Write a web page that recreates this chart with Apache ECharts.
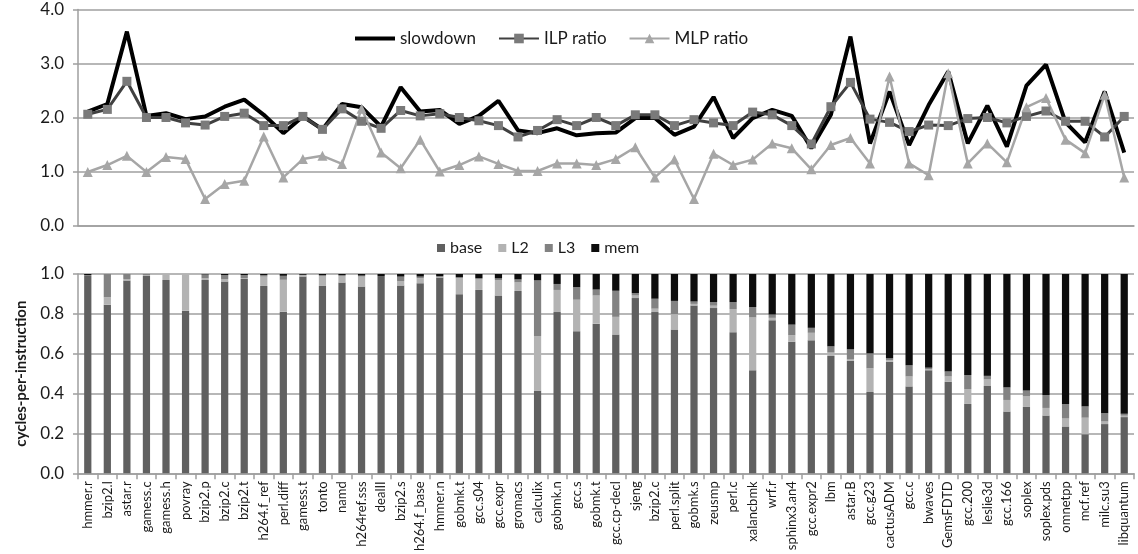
<!DOCTYPE html>
<html>
<head>
<meta charset="utf-8">
<script src="https://cdn.jsdelivr.net/npm/echarts@6/dist/echarts.min.js"></script>
<style>
  html, body { margin: 0; padding: 0; background: #fff; }
  #chart { width: 1138px; height: 554px; }
</style>
</head>
<body>
<div id="chart"></div>
<script>
// benchmarks (x axis)
const categories = ['hmmer.r','bzip2.l','astar.r','gamess.c','gamess.h','povray','bzip2.p','bzip2.c','bzip2.t','h264.f_ref',
  'perl.diff','gamess.t','tonto','namd','h264ref.sss','dealII','bzip2.s','h264.f_base','hmmer.n','gobmk.t',
  'gcc.s04','gcc.expr','gromacs','calculix','gobmk.n','gcc.s','gobmk.t','gcc.cp-decl','sjeng','bzip2.c',
  'perl.split','gobmk.s','zeusmp','perl.c','xalancbmk','wrf.r','sphinx3.an4','gcc.expr2','lbm','astar.B',
  'gcc.g23','cactusADM','gcc.c','bwaves','GemsFDTD','gcc.200','leslie3d','gcc.166','soplex','soplex.pds',
  'omnetpp','mcf.ref','milc.su3','libquantum']

// top panel: ratios
const slowdown = [2.11,2.25,3.59,2.03,2.08,1.97,2.02,2.2,2.33,2.05,1.71,2.02,1.78,2.25,2.19,1.83,2.56,2.11,2.14,
  1.88,2.03,2.31,1.76,1.71,1.8,1.67,1.71,1.72,1.99,1.99,1.68,1.83,2.38,1.62,1.99,2.14,2.03,
  1.43,2.05,3.5,1.52,2.48,1.49,2.23,2.85,1.52,2.22,1.46,2.59,2.98,1.91,1.54,2.48,1.35]
const ilpRatio = [2.06,2.15,2.67,2.0,2.0,1.9,1.86,2.02,2.08,1.85,1.85,2.02,1.78,2.16,1.93,1.8,2.13,2.03,2.07,
  2.0,1.94,1.85,1.64,1.76,1.96,1.85,2.0,1.85,2.05,2.05,1.85,1.96,1.9,1.85,2.1,2.05,1.85,
  1.51,2.2,2.65,1.97,1.91,1.74,1.86,1.85,1.98,2.0,1.9,2.02,2.12,1.93,1.93,1.64,2.02]
const mlpRatio = [0.99,1.12,1.29,0.99,1.27,1.23,0.49,0.77,0.83,1.65,0.89,1.23,1.29,1.14,2.16,1.35,1.06,1.59,1.0,
  1.12,1.28,1.14,1.01,1.01,1.15,1.15,1.12,1.23,1.45,0.89,1.22,0.49,1.33,1.12,1.22,1.52,1.43,
  1.04,1.49,1.62,1.15,2.76,1.15,0.93,2.82,1.15,1.52,1.17,2.19,2.36,1.59,1.34,2.42,0.89]

// bottom panel: cpi stack
const base = [0.99,0.846,0.967,0.99,0.97,0.816,0.97,0.962,0.975,0.94,0.811,0.987,0.94,0.957,0.937,0.99,
  0.942,0.954,0.982,0.899,0.92,0.892,0.915,0.415,0.809,0.713,0.751,0.697,0.879,0.809,0.721,0.842,0.829,0.708,0.517,
  0.768,0.66,0.667,0.589,0.564,0.408,0.56,0.436,0.517,0.459,0.348,0.438,0.31,0.333,0.29,0.235,0.196,0.247,0.282]
const l2 = [0.0,0.038,0.008,0.005,0.03,0.184,0.008,0.013,0.005,0.047,0.16,0.006,0.05,0.033,0.05,0.0,
  0.023,0.025,0.003,0.08,0.055,0.078,0.043,0.274,0.111,0.158,0.141,0.088,0.013,0.017,0.078,0.008,0.012,0.116,0.265,
  0.012,0.033,0.038,0.017,0.007,0.119,0.007,0.05,0.005,0.027,0.075,0.033,0.058,0.053,0.038,0.04,0.083,0.013,0.007]
const l3 = [0.005,0.116,0.025,0.005,0.0,0.0,0.02,0.02,0.015,0.008,0.02,0.003,0.005,0.005,0.005,0.0,
  0.022,0.008,0.005,0.005,0.004,0.008,0.015,0.279,0.03,0.063,0.03,0.131,0.012,0.05,0.066,0.012,0.018,0.035,0.052,
  0.017,0.053,0.025,0.031,0.051,0.075,0.01,0.056,0.008,0.025,0.07,0.018,0.063,0.03,0.065,0.073,0.058,0.041,0.01]
const mem = [0.005,0.0,0.0,0.0,0.0,0.0,0.002,0.005,0.005,0.005,0.009,0.004,0.005,0.005,0.008,0.01,
  0.013,0.013,0.01,0.016,0.021,0.022,0.027,0.032,0.05,0.066,0.078,0.084,0.096,0.124,0.135,0.138,0.141,0.141,0.166,
  0.203,0.254,0.27,0.363,0.378,0.398,0.423,0.458,0.47,0.489,0.507,0.511,0.569,0.584,0.607,0.652,0.663,0.699,0.701]

const font = 'Lato, "Open Sans", sans-serif'
const gridColor = '#9f9f9f'
const textColor = '#1a1a1a'

function yAxis(gridIndex, max, interval, extra) {
    return Object.assign({
        type: 'value', gridIndex, min: 0, max, interval,
        axisLine: { show: true, lineStyle: { color: gridColor, width: 1.5 } },
        axisTick: { show: true, length: 5, lineStyle: { color: gridColor, width: 1.5 } },
        splitLine: { lineStyle: { color: gridColor, width: 1.5 } },
        axisLabel: { formatter: v => v.toFixed(1), fontSize: 17, color: textColor, fontFamily: font, margin: 14 },
    }, extra)
}

function stack(name, data, color) {
    return {
        name, type: 'bar', stack: 'cpi', xAxisIndex: 1, yAxisIndex: 1,
        data, barWidth: '37%', itemStyle: { color },
    }
}

const chart = echarts.init(document.getElementById('chart'))
chart.setOption({
    animation: false,
    textStyle: { fontFamily: font },
    grid: [
        { left: 78, right: 4, top: 9.5, height: 216 },
        { left: 78, right: 4, top: 274, height: 201 },
    ],
    legend: [
        {
            // slowdown has no marker, only the thick line
            data: [{ name: 'slowdown', icon: 'path://M0,0H40V4H0Z' }, 'ILP ratio', 'MLP ratio'],
            left: 350, top: 25, itemWidth: 40, itemHeight: 12, itemGap: 22,
            textStyle: { fontSize: 17, color: textColor, fontFamily: font },
        },
        {
            data: ['base', 'L2', 'L3', 'mem'],
            left: 432, top: 235, itemWidth: 8, itemHeight: 8, itemGap: 16, icon: 'rect',
            textStyle: { fontSize: 16, color: textColor, fontFamily: font },
        },
    ],
    xAxis: [
        {
            type: 'category', gridIndex: 0, data: categories,
            axisLine: { lineStyle: { color: gridColor, width: 1.5 } },
            axisTick: { show: false }, axisLabel: { show: false },
        },
        {
            type: 'category', gridIndex: 1, data: categories,
            axisLine: { lineStyle: { color: gridColor, width: 1.5 } },
            axisTick: { show: true, length: 6, lineStyle: { color: gridColor, width: 1.5 } },
            axisLabel: { interval: 0, rotate: 90, fontSize: 13, color: textColor, fontFamily: font, margin: 8 },
        },
    ],
    yAxis: [
        yAxis(0, 4, 1),
        yAxis(1, 1, 0.2, {
            name: 'cycles-per-instruction', nameLocation: 'middle', nameGap: 49,
            nameTextStyle: { fontWeight: 'bold', fontSize: 15, color: textColor, fontFamily: font },
        }),
    ],
    series: [
        {
            name: 'slowdown', type: 'line', data: slowdown, symbol: 'none',
            lineStyle: { color: '#000', width: 4 }, itemStyle: { color: '#000' },
        },
        {
            name: 'ILP ratio', type: 'line', data: ilpRatio, symbol: 'rect', symbolSize: 9,
            lineStyle: { color: '#404040', width: 3 }, itemStyle: { color: '#7a7a7a' },
        },
        {
            name: 'MLP ratio', type: 'line', data: mlpRatio, symbol: 'triangle', symbolSize: 10,
            lineStyle: { color: '#a6a6a6', width: 2.5 }, itemStyle: { color: '#a6a6a6' },
        },
        stack('base', base, '#606060'),
        stack('L2', l2, '#b3b3b3'),
        stack('L3', l3, '#828282'),
        stack('mem', mem, '#0d0d0d'),
    ],
})
</script>
</body>
</html>
